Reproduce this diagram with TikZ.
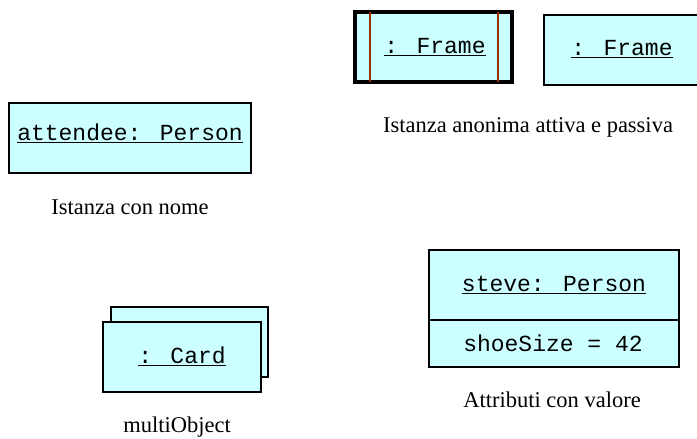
\documentclass[tikz,border=0pt]{standalone}
\usepackage{fontspec}
\setmainfont{Liberation Serif}
\newfontfamily\monof{Liberation Mono}
\definecolor{objfill}{HTML}{CCFFFF}
\definecolor{actline}{HTML}{993300}
\begin{document}
\begin{tikzpicture}[x=1pt,y=-1pt,
  objbox/.style={draw=black,fill=objfill,line width=1.6pt},
  monotext/.style={font=\monof\fontsize{23}{26}\selectfont,inner sep=0pt},
  captext/.style={font=\fontsize{22.5}{26}\selectfont,inner sep=0pt}]
\useasboundingbox (0,0) rectangle (697,439);
\clip (0,0) rectangle (697,439);
% active frame
\draw[objbox,line width=4pt] (355,12) rectangle (512,82);
\draw[actline,line width=2pt] (369.5,12) -- (369.5,82);
\draw[actline,line width=2pt] (498,12) -- (498,82);
\node[monotext] (fa) at (435,47) {\underline{: Frame}};
% passive frame
\draw[objbox] (544,15) rectangle (705,85);
\node[monotext] (fp) at (622,49) {\underline{: Frame}};
\node[captext] (c1) at (528,127) {Istanza anonima attiva e passiva};
% attendee
\draw[objbox] (9,103) rectangle (251,173);
\node[monotext] (att) at (130,133) {\underline{attendee: Person}};
\node[captext] (c2) at (130,207) {Istanza con nome};
% multiobject
\draw[objbox] (111,307) rectangle (268,377);
\draw[objbox] (103,322) rectangle (261,392);
\node[monotext] (card) at (182,356) {\underline{: Card}};
\node[captext] (c3) at (177,427) {multiObject};
% steve
\draw[objbox] (429,250) rectangle (679,367);
\draw[line width=1.6pt] (429,320) -- (679,320);
\node[monotext] (st) at (554,285) {\underline{steve: Person}};
\node[monotext] (ss) at (553,343) {shoeSize = 42};
\node[captext] (c4) at (552,400) {Attributi con valore};
\end{tikzpicture}
\end{document}
